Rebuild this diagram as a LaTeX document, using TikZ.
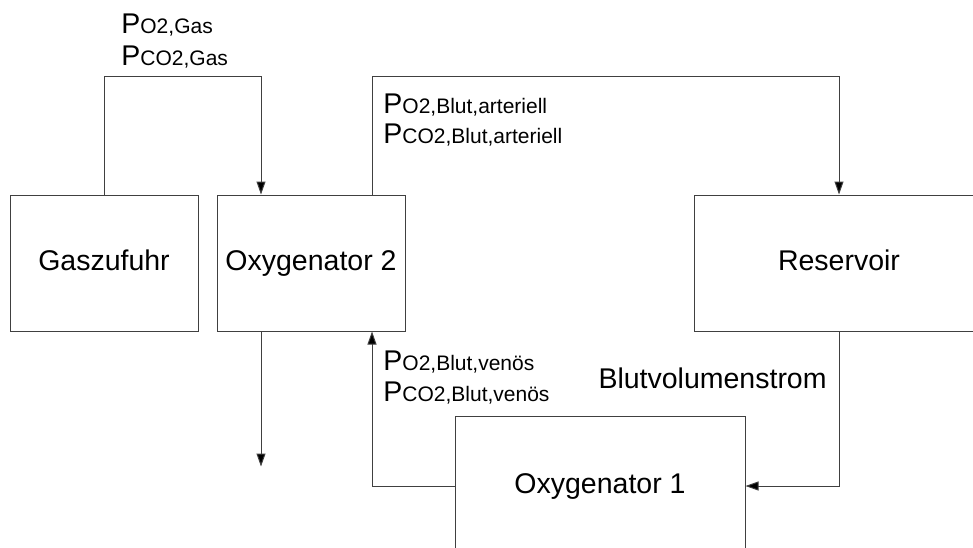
\documentclass[tikz,border=0pt]{standalone}
\usepackage{fontspec}
\setmainfont{Liberation Sans}
\usetikzlibrary{positioning,arrows.meta}

% Partialdruck: grosses P, Index klein auf gleicher Grundlinie
\newcommand{\partdruck}[1]{P{\fontsize{10.5}{12}\selectfont #1}}

\begin{document}
\begin{tikzpicture}[x=0.5pt,y=-0.5pt,
    every node/.style={font=\fontsize{14.25}{17}\selectfont},
    block/.style={draw=black!75,line width=0.5pt,minimum width=94pt,minimum height=68pt,
        inner sep=0pt,text height=10.5pt,text depth=3pt},
    strom/.style={draw=black!75,line width=0.5pt,-{Triangle[length=6.5pt,width=4.5pt,fill=black]}},
    wert/.style={anchor=base west,inner sep=0pt}]
    \useasboundingbox (0,0) rectangle (973,547);

    \node[block] (gas) at (104,263) {Gaszufuhr};
    \node[block,right=9pt of gas] (oxy2) {Oxygenator 2};
    \node[block,right=144pt of oxy2,minimum width=145pt] (res) {Reservoir};
    \node[block,minimum width=145pt,minimum height=70pt] (oxy1) at (600,486) {Oxygenator 1};
    \coordinate (abgas) at ([shift={(-25pt,-67.5pt)}]oxy2.south);

    % Gas- und Blutwege
    \draw[strom] (gas.north) -- ++(0,-118) -| ([xshift=-25pt]oxy2.north);
    \draw[strom] ([xshift=30.5pt]oxy2.north) -- ++(0,-118) -| (res.north);
    \draw[strom] (res.south) |- (oxy1.east);
    \draw[strom] (oxy1.west) -| ([xshift=30.5pt]oxy2.south);
    \draw[strom] ([xshift=-25pt]oxy2.south) -- (abgas);

    % Partialdruecke
    \node[wert] (po2gas) at (121,33) {\partdruck{O2,Gas}};
    \node[wert] (pco2gas) at (121,65) {\partdruck{CO2,Gas}};
    \node[wert] (po2art) at (383,113) {\partdruck{O2,Blut,arteriell}};
    \node[wert] (pco2art) at (383,143) {\partdruck{CO2,Blut,arteriell}};
    \node[wert] (po2ven) at (383,370) {\partdruck{O2,Blut,venös}};
    \node[wert] (pco2ven) at (383,401) {\partdruck{CO2,Blut,venös}};
    \node[anchor=base east,inner sep=0pt] (vol) at (827,388) {Blutvolumenstrom};
\end{tikzpicture}
\end{document}
